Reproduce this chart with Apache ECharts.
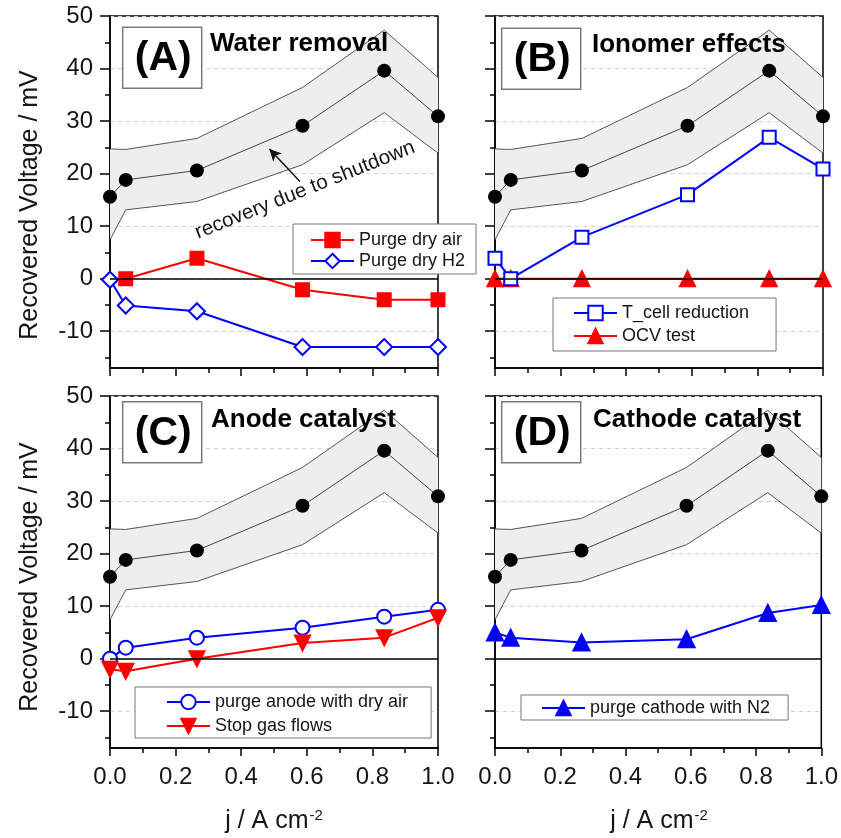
<!DOCTYPE html>
<html>
<head>
<meta charset="utf-8">
<script src="https://cdn.jsdelivr.net/npm/echarts@6/dist/echarts.min.js"></script>
<style>
  html, body { margin: 0; padding: 0; background: #fff; }
  #chart { width: 841px; height: 838px; }
</style>
</head>
<body>
<div id="chart"></div>
<script>
// ---------- data ----------
const xJ = [0, 0.048, 0.265, 0.587, 0.836, 1.0];          // current density j / A cm-2
const refMean  = [15.6, 18.8, 20.6, 29.1, 39.6, 30.9];    // recovery due to shutdown (black dots)
const refUpper = [24.7, 24.6, 26.7, 36.4, 47.3, 38.3];    // band upper bound
const refLower = [7.4, 13.1, 14.7, 21.7, 31.6, 23.9];     // band lower bound

const xDryAir = [0.048, 0.265, 0.587, 0.836, 1.0];
const purgeDryAir = [0, 3.9, -2.1, -4, -4];
const purgeDryH2  = [-0.2, -5.1, -6.2, -13, -13, -13];

const tCellReduction = [3.9, 0, 7.9, 16, 26.9, 20.9];
const ocvTest        = [0, 0, 0, 0, 0, 0];

const purgeAnodeDryAir = [0, 2.1, 4.0, 5.9, 8.0, 9.3];
const stopGasFlows     = [-2.0, -2.4, 0, 3.0, 4.0, 7.8];

const purgeCathodeN2 = [5.0, 4.0, 3.1, 3.7, 8.7, 10.2];

const yMajorTicks = [-10, 0, 10, 20, 30, 40, 50];
const yMinorTicks = [-15, -5, 5, 15, 25, 35, 45];
const panelLabels = ['(A)', '(B)', '(C)', '(D)'];
const panelTitles = ['Water removal', 'Ionomer effects', 'Anode catalyst', 'Cathode catalyst'];
const yTitle = 'Recovered Voltage / mV';
const annotation = 'recovery due to shutdown';

// ---------- layout / style ----------
const FONT = 'Liberation Sans, Arial, sans-serif';
const TXT = '#151515';
const grids = [
  { left: 110, top: 16,  width: 328, height: 352 },
  { left: 495, top: 16,  width: 328, height: 352 },
  { left: 110, top: 396, width: 328, height: 352 },
  { left: 495, top: 396, width: 328, height: 352 }
];
const pts = (ys, xs) => (xs || xJ).map((x, i) => [x, ys[i]]);

const xAxes = grids.map((g, i) => ({
  gridIndex: i, type: 'value', min: 0, max: 1, interval: 0.2,
  axisLine: { show: true, onZero: false, lineStyle: { color: '#000', width: 1.5 } },
  axisTick: { show: true, inside: false, length: 8, lineStyle: { color: '#000', width: 1.5 } },
  minorTick: { show: true, splitNumber: 2, length: 5, lineStyle: { color: '#000', width: 1.5 } },
  axisLabel: { show: i >= 2, margin: 17, fontSize: 24, color: TXT, fontFamily: FONT,
               formatter: v => v.toFixed(1) },
  splitLine: { show: false }, minorSplitLine: { show: false }
}));

const yAxes = [];
grids.forEach((g, i) => {
  yAxes.push({
    gridIndex: i, type: 'value', min: -17, max: 50, position: 'left',
    axisLine: { show: true, onZero: false, lineStyle: { color: '#000', width: 1.5 } },
    axisTick: { show: true, inside: false, length: 10, customValues: yMajorTicks,
                lineStyle: { color: '#000', width: 1.5 } },
    axisLabel: { show: i % 2 === 0, customValues: yMajorTicks, margin: 17, fontSize: 24,
                 color: TXT, fontFamily: FONT },
    splitLine: { show: true, lineStyle: { color: '#d2d2d2', type: [4, 4], width: 1 } }
  });
  yAxes.push({
    gridIndex: i, type: 'value', min: -17, max: 50, position: 'left', offset: 0,
    axisLine: { show: false },
    axisTick: { show: true, inside: false, length: 5, customValues: yMinorTicks,
                lineStyle: { color: '#000', width: 1.5 } },
    axisLabel: { show: false },
    splitLine: { show: false }
  });
});

const series = [];
grids.forEach((g, i) => {
  const ax = { xAxisIndex: i, yAxisIndex: 2 * i };
  series.push(Object.assign({
    name: 'band', type: 'custom', silent: true, z: 1,
    data: pts(refMean), encode: { x: 0, y: 1 },
    renderItem: (params, api) => {
      if (params.dataIndex !== 0) return null;
      const top = refUpper.map((v, k) => api.coord([xJ[k], v]));
      const bot = refLower.map((v, k) => api.coord([xJ[k], v])).reverse();
      return { type: 'polygon', shape: { points: top.concat(bot) }, style: { fill: '#eeeeee' } };
    }
  }, ax));
  [refUpper, refLower].forEach(arr => series.push(Object.assign({
    name: 'bound', type: 'line', silent: true, z: 2, symbol: 'none',
    data: pts(arr), lineStyle: { color: '#555', width: 1 }
  }, ax)));
  const mean = Object.assign({
    name: 'reference', type: 'line', silent: true, z: 3,
    symbol: 'circle', symbolSize: 14, data: pts(refMean),
    itemStyle: { color: '#000' }, lineStyle: { color: '#444', width: 1 },
    markLine: {
      silent: true, symbol: 'none', animation: false,
      label: { show: false },
      lineStyle: { color: '#000', width: 1.5, type: 'solid' },
      data: [{ yAxis: 0 }]
    }
  }, ax);
  series.push(mean);
});

// arrow annotation in panel A
series.push({
  name: 'arrow', type: 'line', xAxisIndex: 0, yAxisIndex: 0, data: [], silent: true, z: 5,
  markLine: {
    silent: true, animation: false, symbol: ['none', 'arrow'], symbolSize: [9, 12],
    label: { show: false },
    lineStyle: { color: '#111', width: 1.5, type: 'solid' },
    data: [[{ coord: [0.579, 18.5] }, { coord: [0.486, 24.7] }]]
  }
});

const RED = '#ff0000', BLUE = '#0000ff';
function dataSeries(name, grid, data, color, symbol, size, extra) {
  return Object.assign({
    name, type: 'line', xAxisIndex: grid, yAxisIndex: 2 * grid, z: 4,
    data, symbol, symbolSize: size, showAllSymbol: true,
    lineStyle: { color, width: 2 },
    itemStyle: { color, borderColor: color, borderWidth: 2 }
  }, extra || {});
}
series.push(dataSeries('Purge dry H2', 0, pts(purgeDryH2), BLUE, 'emptyDiamond', 16));
series.push(dataSeries('Purge dry air', 0, pts(purgeDryAir, xDryAir), RED, 'rect', 13));
series.push(dataSeries('OCV test', 1, pts(ocvTest), RED, 'triangle', 15));
series.push(dataSeries('T_cell reduction', 1, pts(tCellReduction), BLUE, 'emptyRect', 13,
  { itemStyle: { color: BLUE, borderColor: BLUE, borderWidth: 1.5 } }));
series.push(dataSeries('purge anode with dry air', 2, pts(purgeAnodeDryAir), BLUE, 'emptyCircle', 14));
series.push(dataSeries('Stop gas flows', 2, pts(stopGasFlows), RED, 'triangle', 15, { symbolRotate: 180 }));
series.push(dataSeries('purge cathode with N2', 3, pts(purgeCathodeN2), BLUE, 'triangle', 16));

const legendBase = {
  orient: 'vertical', itemWidth: 43, itemHeight: 18, selectedMode: false,
  borderColor: '#777', borderWidth: 1, backgroundColor: '#fff', borderRadius: 0, z: 20,
  textStyle: { fontSize: 18, fontFamily: FONT, color: TXT }
};
const legends = [
  Object.assign({}, legendBase, { data: ['Purge dry air', 'Purge dry H2'], left: 293, top: 224, padding: [7, 11, 4, 17], itemGap: 3 }),
  Object.assign({}, legendBase, { data: ['T_cell reduction', 'OCV test'], left: 553, top: 298, padding: [6, 27, 6, 20], itemGap: 5 }),
  Object.assign({}, legendBase, { data: ['purge anode with dry air', 'Stop gas flows'], left: 135, top: 687, padding: [6, 23, 3, 31], itemGap: 6 }),
  Object.assign({}, legendBase, { data: ['purge cathode with N2'], left: 521, top: 695, padding: [4, 18, 3, 20] })
];

// ---------- graphic annotations (panel tags, titles, axis titles) ----------
const tagBoxes = [[122.7, 27.3], [501.7, 28.3], [122.7, 401.7], [501.7, 401.7]];
const titlePos = [[210, 44], [592, 45], [211, 420], [593, 420]];
const graphics = [];
panelLabels.forEach((lab, i) => {
  const [bx, by] = tagBoxes[i];
  graphics.push({ type: 'rect', z: 30, shape: { x: bx, y: by, width: 79, height: 61 },
    style: { fill: '#fff', stroke: '#7a7a7a', lineWidth: 1.5 } });
  graphics.push({ type: 'text', z: 31, x: bx + 40.5, y: by + 31.5,
    style: { text: lab, font: 'bold 41px ' + FONT, fill: '#000', align: 'center', verticalAlign: 'middle' } });
  graphics.push({ type: 'text', z: 31, x: titlePos[i][0], y: titlePos[i][1],
    style: { text: panelTitles[i], font: 'bold 26px ' + FONT, fill: '#000', align: 'left', verticalAlign: 'middle' } });
});
[205, 577].forEach(cy => graphics.push({ type: 'text', z: 31, x: 30, y: cy, rotation: Math.PI / 2,
  style: { text: yTitle, font: '25px ' + FONT, fill: TXT, align: 'center', verticalAlign: 'middle' } }));
[274, 659].forEach(cx => graphics.push({ type: 'text', z: 31, x: cx, y: 821,
  style: { text: 'j / A cm{sup|-2}', font: '25px ' + FONT, fill: TXT, align: 'center', verticalAlign: 'middle',
           rich: { sup: { fontSize: 15, fontFamily: FONT, fill: TXT, verticalAlign: 'top', padding: [0, 0, 10, 1] } } } }));
graphics.push({ type: 'text', z: 31, x: 305, y: 190, rotation: 0.379,
  style: { text: annotation, font: '20.5px ' + FONT, fill: TXT, align: 'center', verticalAlign: 'middle' } });

const chart = echarts.init(document.getElementById('chart'), null, { renderer: 'canvas' });
chart.setOption({
  animation: false,
  backgroundColor: '#fff',
  grid: grids.map(g => Object.assign({ show: true, borderColor: '#000', borderWidth: 1.5,
    backgroundColor: 'transparent', containLabel: false }, g)),
  xAxis: xAxes,
  yAxis: yAxes,
  legend: legends,
  series: series,
  graphic: { elements: graphics }
});
</script>
</body>
</html>
